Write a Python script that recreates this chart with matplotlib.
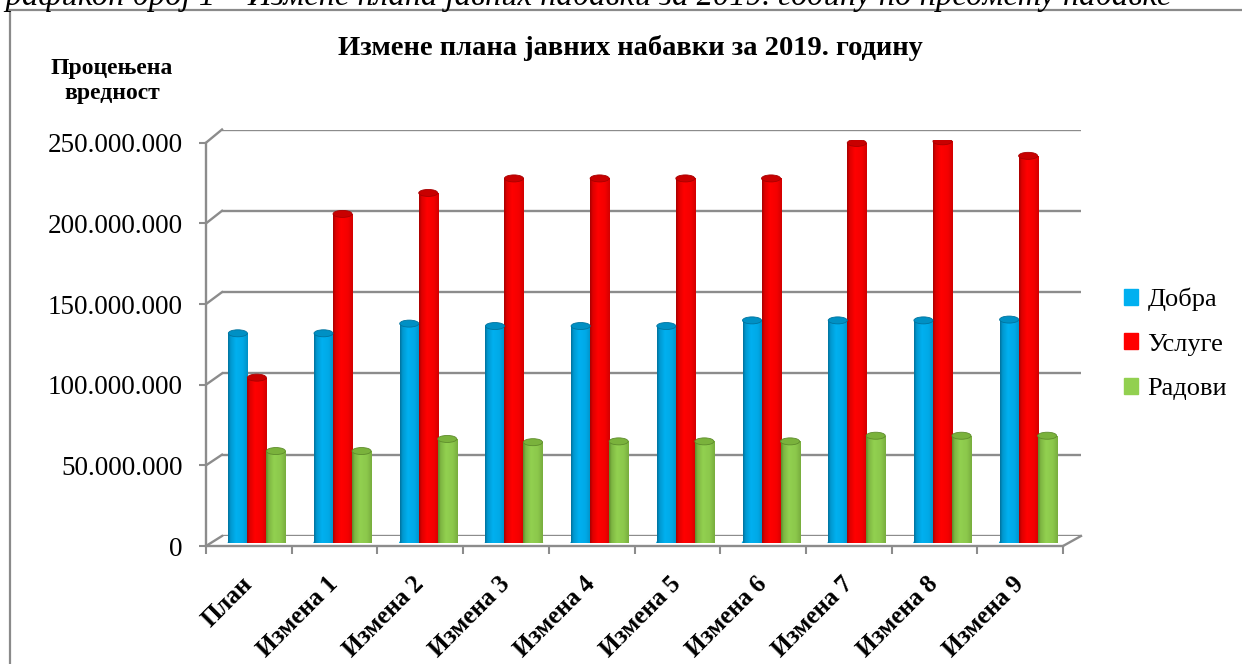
import numpy as np
import matplotlib
matplotlib.use("Agg")
import matplotlib.pyplot as plt
from matplotlib.patches import Ellipse, Rectangle
from matplotlib.lines import Line2D

# ---------------- data ----------------
categories = ["План", "Измена 1", "Измена 2", "Измена 3", "Измена 4",
              "Измена 5", "Измена 6", "Измена 7", "Измена 8", "Измена 9"]
dobra = [130e6, 130e6, 136e6, 134.5e6, 134.5e6, 134.5e6, 138e6, 138e6, 138e6, 138.5e6]
usluge = [102.5e6, 204e6, 217e6, 226e6, 226e6, 226e6, 226e6, 248e6, 249e6, 240e6]
radovi = [57e6, 57e6, 64.5e6, 62.5e6, 63e6, 63e6, 63e6, 66.5e6, 66.5e6, 66.5e6]
series_names = ["Добра", "Услуге", "Радови"]
yticks = [0, 50e6, 100e6, 150e6, 200e6, 250e6]
ytick_labels = ["0", "50.000.000", "100.000.000", "150.000.000", "200.000.000", "250.000.000"]
title = "Измене плана јавних набавки за 2019. годину"
ylabel = "Процењена\nвредност"
caption = "Графикон број 1 – Измене плана јавних набавки за 2019. годину по предмету набавке"

# ---------------- style ----------------
W, H = 1242, 664
DPI = 100
SERIF = ["Liberation Serif", "DejaVu Serif"]
plt.rcParams["font.family"] = SERIF
GRID = "#8c8c8c"
colors = ["#00B0F0", "#FF0000", "#92D050"]
dark = ["#00739E", "#A80000", "#5E8C2C"]
topc = ["#0090C4", "#C80000", "#7AB23C"]

fig = plt.figure(figsize=(W / DPI, H / DPI), dpi=DPI)
fig.patch.set_facecolor("white")


def rect(x0, y_bottom, x1, y_top):
    return [x0 / W, 1 - y_bottom / H, (x1 - x0) / W, (y_bottom - y_top) / H]


# outer frame
fig.add_artist(Rectangle((10 / W, -0.05), 1.2, 1 - 9.5 / H + 0.05, transform=fig.transFigure,
                         fill=False, edgecolor="#8a8a8a", lw=1.6))
# caption (partly clipped at the top, as in the source)
fig.text(-12 / W, 1 - 5 / H, caption, fontsize=23.5, style="italic", ha="left", va="baseline",
         family=SERIF)

# back wall axes (gridlines)
axb = fig.add_axes(rect(222, 536, 1081, 129.5))
axb.set_xlim(0, 1)
axb.set_ylim(0, 250e6)
axb.axis("off")
for v in yticks:
    axb.axhline(v, color=GRID, lw=1.7, zorder=1)

# front axes (axis line, ticks, labels)
ax = fig.add_axes(rect(206, 546, 1063, 142.7))
ax.set_xlim(-0.5, len(categories) - 0.5)
ax.set_ylim(0, 250e6)
ax.patch.set_alpha(0)
for s in ["top", "right"]:
    ax.spines[s].set_visible(False)
for s in ["left", "bottom"]:
    ax.spines[s].set_color(GRID)
    ax.spines[s].set_linewidth(1.7)
ax.set_yticks(yticks)
ax.set_yticklabels(ytick_labels, fontsize=19.5)
ax.tick_params(axis="y", length=5, width=1.5, color=GRID, pad=12)
xpos = np.arange(len(categories))
ax.set_xticks(xpos)
ax.set_xticklabels([])
ax.tick_params(axis="x", which="major", length=0)
ax.set_xticks(np.arange(-0.5, len(categories)), minor=True)
ax.tick_params(axis="x", which="minor", length=6, width=1.5, color=GRID, direction="out")
for i, c in enumerate(categories):
    ax.annotate(c, xy=(i, 0), xycoords="data", xytext=(-8, -26), textcoords="offset pixels",
                rotation=45, rotation_mode="anchor", ha="right", va="top",
                fontsize=18, fontweight="bold", annotation_clip=False)

# diagonals joining front and back
fig.canvas.draw()
inv = fig.transFigure.inverted()
for v in yticks:
    p0 = ax.transData.transform((-0.5, v))
    p1 = axb.transData.transform((0, v))
    a, b = inv.transform(p0), inv.transform(p1)
    fig.add_artist(Line2D([a[0], b[0]], [a[1], b[1]], transform=fig.transFigure,
                          color=GRID, lw=1.7))
p0 = ax.transData.transform((len(categories) - 0.5, 0))
p1 = axb.transData.transform((1, 0))
a, b = inv.transform(p0), inv.transform(p1)
fig.add_artist(Line2D([a[0], b[0]], [a[1], b[1]], transform=fig.transFigure, color=GRID, lw=1.7))

# bars axes (mid depth)
axr = fig.add_axes(rect(214, 543, 1071, 139.7))
axr.set_xlim(-0.5, len(categories) - 0.5)
axr.set_ylim(0, 250e6)
axr.axis("off")
bw = 0.222
px_per_unit = (543 - 139.7) / 250e6
ell_h = 7 / px_per_unit


def shade(col, dk):
    c = np.array(matplotlib.colors.to_rgb(col))
    d = np.array(matplotlib.colors.to_rgb(dk))
    t = np.linspace(0, 1, 40)
    w = np.interp(t, [0, 0.12, 0.4, 0.75, 1.0], [1.0, 0.4, 0.0, 0.12, 0.5])
    return (c[None, :] * (1 - w[:, None]) + d[None, :] * w[:, None])[None, :, :]


for k, vals in enumerate([dobra, usluge, radovi]):
    offs = (k - 1) * bw
    bars = axr.bar(xpos + offs, vals, width=bw, color=colors[k], linewidth=0, zorder=3,
                   label=series_names[k])
    grad = shade(colors[k], dark[k])
    for i, (bar, v) in enumerate(zip(bars, vals)):
        x0 = xpos[i] + offs - bw / 2
        im = axr.imshow(grad, extent=(x0, x0 + bw, 0, v), aspect="auto", zorder=3.5,
                        interpolation="bilinear")
        im.set_clip_path(bar)
        axr.add_patch(Ellipse((xpos[i] + offs, 0), bw, ell_h, color=grad[0, 20], zorder=3.4))
        axr.add_patch(Ellipse((xpos[i] + offs, v), bw, ell_h, facecolor=topc[k],
                              edgecolor=dark[k], lw=0.6, zorder=4))
axr.set_xlim(-0.5, len(categories) - 0.5)
axr.set_ylim(0, 250e6)

# legend
handles = [Rectangle((0, 0), 1, 1, color=c) for c in colors]
fig.legend(handles, series_names, loc="center left", bbox_to_anchor=(1113 / W, 1 - 344 / H),
           frameon=False, fontsize=19, handlelength=0.55, handleheight=0.55,
           handletextpad=0.35, labelspacing=0.85, borderaxespad=0)

# titles
fig.text(630 / W, 1 - 48 / H, title, fontsize=20.5, fontweight="bold", ha="center", va="center")
fig.text(112 / W, 1 - 81 / H, ylabel, fontsize=17, fontweight="bold", ha="center", va="center",
         linespacing=1.2)

fig.savefig("out.png", dpi=DPI)
